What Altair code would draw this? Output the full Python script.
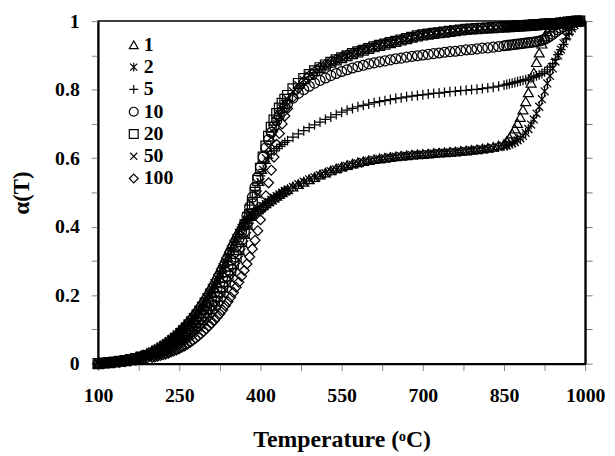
import altair as alt
import pandas as pd

T = [100, 110, 120, 130, 140, 150, 160, 170, 180, 190,
     200, 205, 210, 215, 220, 225, 230, 235, 240, 245,
     250, 255, 260, 265, 270, 275, 280, 285, 290, 295,
     300, 305, 310, 315, 320, 325, 330, 335, 340, 345,
     350, 355, 360, 365, 370, 375, 380, 385, 390, 395,
     400, 405, 410, 415, 420, 425, 430, 435, 440, 445,
     450, 460, 470, 480, 490,
     500, 510, 520, 530, 540, 550, 560, 570, 580, 590,
     600, 610, 620, 630, 640, 650, 660, 670, 680, 690,
     700, 710, 720, 730, 740, 750, 760, 770, 780, 790,
     800, 810, 820, 830, 840, 850,
     855, 860, 865, 870, 875, 880, 885, 890, 895, 900,
     905, 910, 915, 920, 925, 930, 935, 940, 945, 950,
     955, 960, 965, 970, 975, 980, 985, 990]

a1 = [0, .002, .004, .006, .009, .012, .016, .02, .025, .031,
      .039, .043, .048, .053, .058, .064, .07, .076, .083, .09,
      .098, .106, .115, .124, .134, .144, .155, .166, .178, .19,
      .203, .216, .23, .245, .26, .276, .293, .31, .327, .344,
      .36, .376, .39, .403, .414, .423, .431, .438, .444, .45,
      .456, .462, .468, .474, .479, .485, .49, .495, .5, .505,
      .509, .517, .524, .531, .538,
      .545, .552, .558, .564, .57, .575, .58, .584, .588, .591,
      .594, .597, .599, .601, .603, .605, .607, .608, .61, .611,
      .612, .613, .615, .616, .617, .618, .619, .621, .622, .624,
      .626, .628, .63, .633, .637, .642,
      .65, .66, .672, .686, .702, .72, .742, .766, .792, .82,
      .85, .88, .908, .934, .955, .97, .981, .988, .993, .996,
      .998, .999, 1.0, 1.0, 1.0, 1.0, 1.0, 1.0]

a2 = [0, .002, .003, .005, .008, .011, .014, .018, .023, .029,
      .036, .04, .044, .049, .054, .059, .065, .071, .078, .085,
      .092, .1, .108, .117, .126, .136, .146, .157, .169, .181,
      .194, .207, .221, .235, .25, .266, .282, .299, .316, .333,
      .35, .366, .382, .396, .408, .419, .428, .435, .442, .448,
      .454, .46, .466, .472, .478, .484, .489, .494, .499, .504,
      .508, .516, .524, .531, .538,
      .544, .55, .556, .562, .567, .572, .577, .581, .585, .589,
      .592, .595, .598, .6, .602, .604, .606, .607, .609, .61,
      .611, .612, .614, .615, .616, .617, .618, .62, .621, .623,
      .624, .626, .628, .63, .632, .635,
      .637, .64, .643, .647, .652, .658, .665, .674, .685, .698,
      .713, .73, .75, .772, .795, .818, .84, .862, .882, .9,
      .917, .935, .955, .968, .979, .988, .995, 1.0]

a5 = [0, .002, .004, .006, .008, .011, .014, .018, .023, .028,
      .035, .039, .043, .047, .052, .057, .062, .068, .074, .08,
      .087, .094, .102, .11, .119, .128, .138, .148, .159, .17,
      .182, .195, .208, .222, .236, .251, .267, .284, .301, .319,
      .338, .358, .378, .399, .42, .441, .463, .485, .506, .527,
      .548, .567, .585, .6, .612, .621, .628, .634, .64, .646,
      .651, .661, .671, .68, .689,
      .697, .705, .713, .72, .727, .734, .74, .745, .75, .754,
      .758, .762, .765, .768, .771, .774, .776, .779, .781, .783,
      .785, .787, .789, .79, .792, .794, .795, .797, .798, .8,
      .801, .803, .805, .807, .81, .813,
      .815, .817, .819, .821, .823, .825, .827, .829, .831, .834,
      .837, .84, .843, .847, .852, .858, .866, .876, .888, .902,
      .917, .932, .948, .962, .975, .986, .994, 1.0]

a10 = [0, .002, .003, .005, .007, .01, .013, .016, .02, .025,
       .031, .034, .038, .042, .046, .051, .056, .061, .067, .073,
       .08, .087, .094, .102, .11, .119, .128, .138, .148, .159,
       .17, .182, .194, .207, .221, .236, .251, .268, .285, .303,
       .322, .342, .363, .385, .408, .432, .458, .486, .515, .545,
       .575, .603, .63, .654, .675, .694, .71, .724, .737, .748,
       .758, .775, .789, .8, .81,
       .819, .827, .834, .841, .847, .853, .858, .863, .867, .871,
       .875, .878, .881, .884, .887, .89, .892, .895, .897, .899,
       .901, .903, .905, .907, .909, .911, .912, .914, .916, .917,
       .919, .921, .922, .924, .926, .928,
       .929, .93, .931, .932, .933, .934, .935, .936, .937, .938,
       .939, .94, .942, .944, .947, .951, .956, .962, .968, .974,
       .979, .984, .988, .992, .995, .997, .999, 1.0]

a20 = [0, .002, .003, .005, .007, .009, .012, .015, .019, .023,
       .028, .031, .034, .037, .041, .045, .049, .053, .058, .063,
       .069, .075, .081, .088, .095, .103, .111, .12, .129, .139,
       .149, .16, .171, .183, .196, .21, .224, .24, .256, .274,
       .292, .312, .333, .356, .38, .407, .435, .466, .5, .535,
       .57, .603, .635, .664, .69, .711, .73, .746, .76, .772,
       .783, .802, .818, .832, .844,
       .855, .864, .872, .88, .887, .893, .899, .905, .91, .915,
       .92, .925, .929, .933, .937, .941, .945, .949, .953, .957,
       .96, .962, .964, .966, .968, .97, .972, .974, .976, .977,
       .978, .979, .98, .981, .982, .983,
       .984, .984, .985, .985, .986, .986, .987, .987, .988, .988,
       .989, .989, .99, .99, .991, .991, .992, .992, .993, .993,
       .994, .995, .996, .997, .998, .999, 1.0, 1.0]

a50 = [0, .001, .003, .004, .006, .008, .011, .014, .017, .021,
       .025, .027, .03, .033, .036, .039, .043, .047, .051, .055,
       .06, .065, .071, .077, .083, .09, .097, .105, .113, .122,
       .131, .141, .151, .162, .174, .187, .2, .215, .23, .247,
       .264, .283, .303, .325, .348, .373, .4, .429, .46, .494,
       .53, .566, .6, .631, .66, .687, .71, .729, .745, .759,
       .772, .795, .813, .828, .841,
       .852, .862, .871, .879, .886, .893, .899, .905, .91, .915,
       .92, .924, .929, .933, .937, .941, .945, .949, .952, .956,
       .959, .962, .964, .966, .968, .97, .972, .973, .975, .976,
       .977, .978, .979, .98, .981, .982,
       .983, .983, .984, .984, .985, .985, .986, .986, .987, .987,
       .988, .988, .989, .989, .99, .99, .991, .991, .992, .992,
       .993, .994, .995, .996, .997, .998, .999, 1.0]

a100 = [0, .001, .002, .003, .004, .006, .008, .01, .012, .015,
        .018, .02, .022, .024, .026, .028, .031, .034, .037, .04,
        .044, .048, .052, .057, .062, .068, .074, .08, .087, .094,
        .102, .11, .118, .127, .136, .146, .157, .169, .181, .194,
        .208, .223, .238, .255, .272, .291, .312, .335, .36, .388,
        .42, .454, .49, .528, .565, .603, .64, .672, .7, .723,
        .745, .778, .804, .824, .84,
        .853, .864, .873, .881, .888, .895, .901, .907, .912, .917,
        .922, .927, .931, .935, .939, .943, .947, .951, .954, .958,
        .961, .963, .966, .968, .97, .972, .974, .975, .977, .978,
        .979, .98, .981, .982, .983, .984,
        .985, .985, .986, .986, .987, .987, .988, .988, .989, .989,
        .99, .99, .991, .991, .992, .992, .993, .993, .994, .994,
        .995, .996, .997, .998, .999, 1.0, 1.0, 1.0]

rates = ["1", "2", "5", "10", "20", "50", "100"]
series = [a1, a2, a5, a10, a20, a50, a100]

shapes = [
    "triangle-up",
    "M0,-1L0,1M-0.8,-0.8L0.8,0.8M-0.8,0.8L0.8,-0.8",
    "M-1,0L1,0M0,-1L0,1",
    "circle",
    "square",
    "M-0.8,-0.8L0.8,0.8M-0.8,0.8L0.8,-0.8",
    "diamond",
]

x_ticks = [100, 175, 250, 325, 400, 475, 550, 625, 700, 775, 850, 925, 1000]
y_ticks = [0, 0.1, 0.2, 0.3, 0.4, 0.5, 0.6, 0.7, 0.8, 0.9, 1.0]

rows = []
for r, vals in zip(rates, series):
    for t, a in zip(T, vals):
        rows.append({"T": t, "alpha": a, "rate": r})
df = pd.DataFrame(rows)

FONT = "Liberation Serif"

x_enc = alt.X(
    "T:Q",
    scale=alt.Scale(domain=[100, 1000], nice=False),
    axis=alt.Axis(
        values=x_ticks,
        format="d",
        labelFlush=False,
        labelExpr="((datum.value - 100) % 150 == 0) ? datum.label : ''",
        title="Temperature (ᵒC)",
        titleY=77,
        titleBaseline="middle",
        labelPadding=15,
    ),
)

points = alt.Chart(df).mark_point(filled=False, strokeWidth=1.25, opacity=1).encode(
    x=x_enc,
    y=alt.Y(
        "alpha:Q",
        scale=alt.Scale(domain=[0, 1], nice=False),
        axis=alt.Axis(
            values=y_ticks,
            format=".1~f",
            labelFlush=False,
            labelExpr="(round(datum.value * 10) % 2 == 0) ? datum.label : ''",
            title="α(T)",
            titleAngle=-90,
            titleX=-77,
            titleY=173,
            titleAlign="center",
            titleBaseline="middle",
            titleFontSize=23,
            labelPadding=12,
        ),
    ),
    shape=alt.Shape(
        "rate:N",
        scale=alt.Scale(domain=rates, range=shapes),
        sort=rates,
        legend=alt.Legend(
            title=None,
            orient="none",
            legendX=26,
            legendY=14,
            padding=0,
            symbolStrokeColor="black",
            symbolFillColor="transparent",
            symbolStrokeWidth=1.2,
            symbolSize=80,
            labelFont=FONT,
            labelFontWeight="bold",
            labelFontSize=20,
            labelColor="black",
            labelOffset=0,
            rowPadding=2.5,
        ),
    ),
    color=alt.value("black"),
    size=alt.value(100),
)

right = alt.Chart(df).mark_point(opacity=0).encode(
    x=alt.X("T:Q", scale=alt.Scale(domain=[100, 1000], nice=False)),
    y=alt.Y(
        "alpha:Q",
        scale=alt.Scale(domain=[0, 1], nice=False),
        axis=alt.Axis(orient="right", values=y_ticks, labels=False, title=None,
                      tickColor="#777777"),
    ),
)

chart = (
    alt.layer(points, right)
    .resolve_axis(y="independent")
    .properties(
        width=492,
        height=346,
        autosize=alt.AutoSizeParams(type="none"),
        padding={"left": 91, "top": 11, "right": 22, "bottom": 90},
        background="white",
    )
    .configure_view(stroke="black", strokeWidth=1.5)
    .configure_axis(
        grid=False,
        labelFont=FONT,
        labelFontWeight="bold",
        labelFontSize=20,
        labelColor="black",
        titleFont=FONT,
        titleFontWeight="bold",
        titleFontSize=24,
        titleColor="black",
        tickColor="#888888",
        tickSize=7,
        tickWidth=1,
        domainColor="black",
        domainWidth=2,
    )
)

chart.save("out.html", embed_options={"renderer": "svg", "actions": False})
